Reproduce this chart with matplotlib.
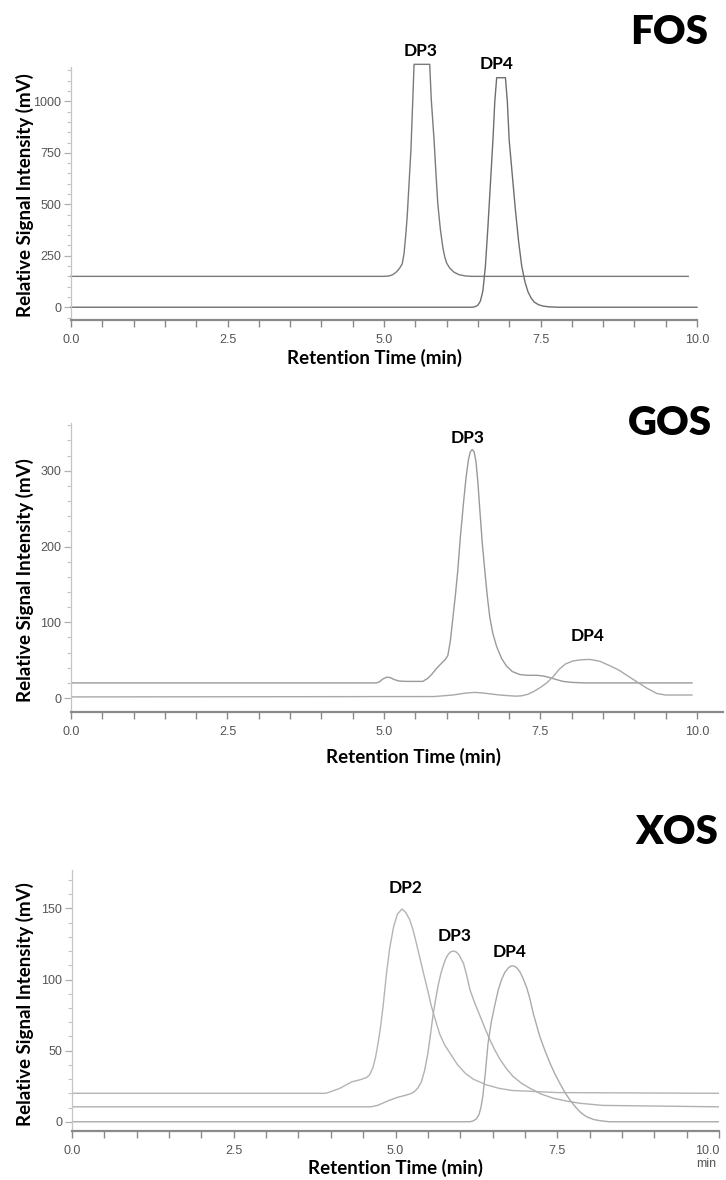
import matplotlib
matplotlib.use("Agg")
import matplotlib.pyplot as plt
from matplotlib.ticker import MultipleLocator, FormatStrFormatter
from matplotlib import font_manager

# ---------------- data ----------------
# FOS
fos_dp3_t = [0.0, 4.90, 5.00, 5.08, 5.14, 5.20, 5.25, 5.29, 5.32, 5.35, 5.37, 5.40, 5.43, 5.46, 5.48,
             5.73, 5.755, 5.78, 5.80, 5.83, 5.86, 5.90, 5.94, 5.97, 6.00, 6.05, 6.12, 6.20, 6.30, 6.40, 9.86]
fos_dp3_v = [150, 150, 150, 152, 158, 172, 190, 210, 260, 360, 438, 600, 762, 1010, 1180,
             1180, 1010, 900, 811, 650, 500, 380, 290, 245, 215, 190, 170, 158, 152, 150, 150]
fos_dp4_t = [0.0, 6.40, 6.45, 6.50, 6.54, 6.58, 6.62, 6.66, 6.70, 6.74, 6.77, 6.80, 6.94, 6.97, 7.00,
             7.05, 7.10, 7.15, 7.20, 7.25, 7.30, 7.35, 7.40, 7.47, 7.55, 7.65, 7.80, 10.0]
fos_dp4_v = [0, 0, 2, 10, 30, 80, 200, 390, 600, 811, 1000, 1115, 1115, 1000, 811,
             640, 470, 320, 200, 125, 75, 45, 25, 12, 5, 1.5, 0, 0]

# GOS
gos_a_t = [0.0, 4.88, 4.93, 4.98, 5.04, 5.10, 5.16, 5.24, 5.35, 5.62, 5.70, 5.76, 5.85, 5.92,
           5.98, 6.02, 6.06, 6.10, 6.14, 6.18, 6.22, 6.27, 6.31, 6.35, 6.38, 6.41, 6.44, 6.47,
           6.50, 6.53, 6.57, 6.61, 6.65, 6.69, 6.74, 6.80, 6.88, 6.96, 7.05, 7.17, 7.30, 7.45,
           7.55, 7.65, 7.75, 7.86, 8.00, 8.20, 9.92]
gos_a_v = [20, 20, 21.5, 25, 27.5, 27, 24.5, 22.5, 22, 22, 26, 31, 40, 46,
           51, 56, 75, 105, 135, 169, 212, 257, 290, 315, 325, 328, 325, 312,
           285, 250, 205, 169, 135, 107, 85, 68, 52, 42, 35, 31, 30, 30,
           29, 27, 24.5, 22, 20.7, 20, 20]
gos_b_t = [0.0, 5.80, 6.10, 6.30, 6.45, 6.60, 6.85, 7.10, 7.20, 7.30, 7.40, 7.50, 7.60, 7.70,
           7.80, 7.90, 8.02, 8.15, 8.29, 8.45, 8.60, 8.75, 8.88, 9.04, 9.20, 9.36, 9.50, 9.92]
gos_b_v = [1.5, 2, 4, 6.5, 7.5, 6.5, 4, 2.5, 3, 5, 9, 14, 20, 28,
           38, 45, 49, 50.5, 51, 48.5, 43, 37, 30, 21.5, 13, 6, 4, 4]

# XOS
xos_dp2_t = [0.0, 3.92, 3.99, 4.14, 4.32, 4.45, 4.55, 4.60, 4.65, 4.69, 4.73, 4.77, 4.81, 4.86,
             4.91, 4.97, 5.03, 5.10, 5.16, 5.22, 5.27, 5.32, 5.43, 5.50, 5.55, 5.62, 5.68, 5.76,
             5.86, 5.96, 6.08, 6.20, 6.40, 6.60, 6.80, 7.50, 10.0]
xos_dp2_v = [20, 20, 21, 23.5, 28, 29.5, 31, 33, 38, 45, 55, 67, 82, 104,
             122, 137, 146, 149.6, 147, 142, 135, 126, 105, 92, 82, 71, 62, 54,
             47, 40, 34, 30, 26, 23.5, 22, 20.5, 20]
xos_dp3_t = [0.0, 4.62, 4.72, 4.80, 4.90, 5.02, 5.17, 5.25, 5.30, 5.35, 5.40, 5.45, 5.50, 5.54,
             5.58, 5.62, 5.66, 5.70, 5.74, 5.78, 5.82, 5.86, 5.90, 5.94, 5.98, 6.02, 6.05, 6.10,
             6.15, 6.22, 6.31, 6.38, 6.46, 6.54, 6.62, 6.72, 6.82, 6.95, 7.08, 7.25, 7.44, 7.65,
             7.85, 8.20, 10.0]
xos_dp3_v = [10.5, 10.5, 11.5, 13, 15, 17, 18.8, 20, 21.5, 24, 28, 36, 48, 61,
             75, 86, 96, 104, 110, 115, 118, 119.6, 120, 119.3, 117.5, 114, 111.5, 103,
             93, 84, 74, 66, 57.5, 50, 43.5, 37, 31.7, 27, 23.5, 19.5, 16.5, 14.5,
             13, 11.5, 10.5]
xos_dp4_t = [0.0, 6.15, 6.20, 6.25, 6.29, 6.32, 6.35, 6.39, 6.43, 6.48, 6.54, 6.59, 6.64, 6.69,
             6.74, 6.78, 6.82, 6.87, 6.92, 6.97, 7.03, 7.08, 7.13, 7.18, 7.23, 7.31, 7.39, 7.46,
             7.54, 7.62, 7.70, 7.78, 7.85, 7.92, 7.98, 8.07, 8.17, 8.30, 10.0]
xos_dp4_v = [0, 0, 0.6, 2, 5, 10, 18, 35, 55, 70, 83, 93, 100, 105,
             108, 109.4, 109.6, 108.5, 105.6, 101, 94, 86, 76, 68, 60, 50, 41, 34,
             27, 20.5, 15, 10.5, 7, 4.5, 3, 1.5, 0.7, 0, 0]

x_ticks = [0.0, 2.5, 5.0, 7.5, 10.0]
fos_yticks = [0, 250, 500, 750, 1000]
gos_yticks = [0, 100, 200, 300]
xos_yticks = [0, 50, 100, 150]

# ---------------- fonts ----------------
def have(name):
    try:
        font_manager.findfont(font_manager.FontProperties(family=name), fallback_to_default=False)
        return True
    except Exception:
        return False

tick_font = 'Liberation Sans Narrow' if have('Liberation Sans Narrow') else 'Liberation Sans'
bold_font = 'Lato' if have('Lato') else 'DejaVu Sans'

W, H = 726, 1180
fig = plt.figure(figsize=(W / 100, H / 100), dpi=100)
fig.patch.set_facecolor('white')

def ax_from_px(x0, y0, x1, y1):
    return fig.add_axes([x0 / W, 1 - y1 / H, (x1 - x0) / W, (y1 - y0) / H])

def style(ax, xlim, ylim, yticks, yminor):
    ax.set_xlim(*xlim)
    ax.set_ylim(*ylim)
    ax.set_facecolor('none')
    for s in ('top', 'right'):
        ax.spines[s].set_visible(False)
    ax.spines['left'].set_color('#c4c4c4')
    ax.spines['left'].set_linewidth(0.9)
    ax.spines['bottom'].set_color('#8a8a8a')
    ax.spines['bottom'].set_linewidth(1.6)
    ax.set_xticks(x_ticks)
    ax.xaxis.set_minor_locator(MultipleLocator(0.5))
    ax.xaxis.set_major_formatter(FormatStrFormatter('%.1f'))
    ax.set_yticks(yticks)
    ax.yaxis.set_minor_locator(MultipleLocator(yminor))
    ax.tick_params(axis='x', which='both', direction='out', length=5, width=1.0,
                   color='#8a8a8a', labelcolor='#555555', labelsize=9, pad=5)
    ax.tick_params(axis='y', which='major', direction='out', length=5, width=0.9,
                   color='#b0b0b0', labelcolor='#555555', labelsize=9, pad=2)
    ax.tick_params(axis='y', which='minor', direction='out', length=3, width=0.8,
                   color='#c4c4c4')
    for lab in ax.get_xticklabels() + ax.get_yticklabels():
        lab.set_fontfamily(tick_font)

def labels(ax, xl_px, yl_px, title_px, title):
    fig.text(xl_px[0] / W, 1 - xl_px[1] / H, 'Retention Time (min)', ha='center', va='center',
             fontsize=13.5, fontweight='bold', family=bold_font)
    fig.text(yl_px[0] / W, 1 - yl_px[1] / H, 'Relative Signal Intensity (mV)', ha='center',
             va='center', rotation=90, fontsize=13.5, fontweight='bold', family=bold_font)
    fig.text(title_px[0] / W, 1 - title_px[1] / H, title, ha='center', va='center',
             fontsize=29, fontweight='heavy', family=bold_font)

def dp(ax, x, y, s):
    ax.text(x, y, s, ha='center', va='center', fontsize=12.5, fontweight='bold',
            family=bold_font, clip_on=False)

# ---------------- FOS ----------------
ax1 = ax_from_px(71, 67, 697, 320)
style(ax1, (0, 10), (-62, 1167), fos_yticks, 50)
ax1.plot(fos_dp3_t, fos_dp3_v, color='#7a7a7a', lw=1.0, clip_on=False)
ax1.plot(fos_dp4_t, fos_dp4_v, color='#6e6e6e', lw=1.0, clip_on=False)
dp(ax1, 5.59, 1246, 'DP3')
dp(ax1, 6.80, 1183, 'DP4')
labels(ax1, (375, 358), (25, 195), (669, 33), 'FOS')

# ---------------- GOS ----------------
ax2 = ax_from_px(71, 423, 722.6, 711.7)
style(ax2, (0, 10.41), (-18, 363), gos_yticks, 20)
ax2.plot(gos_a_t, gos_a_v, color='#9a9a9a', lw=1.0)
ax2.plot(gos_b_t, gos_b_v, color='#a8a8a8', lw=1.0)
dp(ax2, 6.33, 343, 'DP3')
dp(ax2, 8.26, 82, 'DP4')
labels(ax2, (414, 757), (25, 580), (670, 423), 'GOS')

# ---------------- XOS ----------------
ax3 = ax_from_px(72, 870, 719, 1131)
style(ax3, (0, 10), (-6.5, 177), xos_yticks, 10)
ax3.plot(xos_dp2_t, xos_dp2_v, color='#b4b4b4', lw=1.0)
ax3.plot(xos_dp3_t, xos_dp3_v, color='#b0b0b0', lw=1.0)
ax3.plot(xos_dp4_t, xos_dp4_v, color='#aaaaaa', lw=1.0)
dp(ax3, 5.16, 164, 'DP2')
dp(ax3, 5.92, 130.8, 'DP3')
dp(ax3, 6.77, 119, 'DP4')
labels(ax3, (395, 1168), (25, 1004), (677, 833), 'XOS')
ax3.get_xticklabels()[-1].set_horizontalalignment('right')
fig.text(716 / W, 1 - 1164 / H, 'min', ha='right', va='center', fontsize=9,
         color='#555555', family=tick_font)

fig.savefig('out.png', dpi=100, facecolor='white')
